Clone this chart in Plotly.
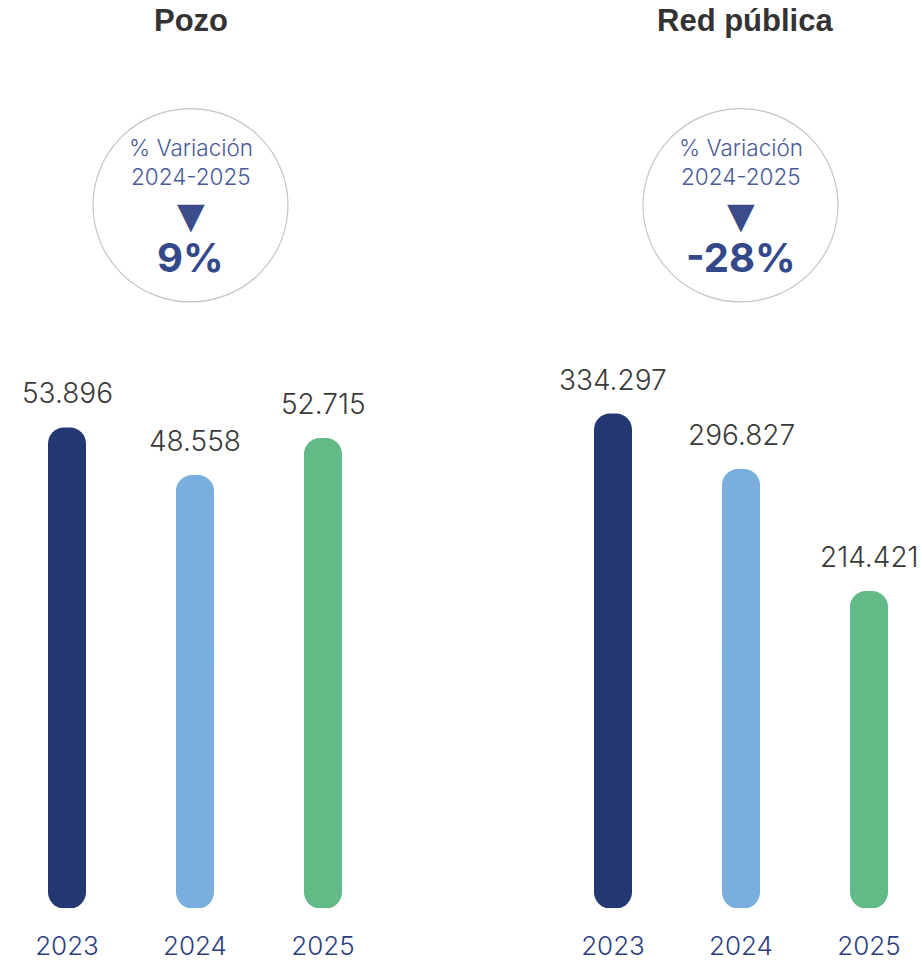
import plotly.graph_objects as go

# Data
years = ["2023", "2024", "2025"]
pozo = [53896, 48558, 52715]
red_publica = [334297, 296827, 214421]
panel_titles = ["Pozo", "Red pública"]
variacion_titulo = ["% Variación", "% Variación"]
variacion_periodo = ["2024-2025", "2024-2025"]
variacion = ["9%", "-28%"]

bar_colors = ["#243874", "#79aedf", "#62ba86"]
W, H = 922, 961
BOTTOM = 45      # room under the bars for the year labels
STEP = 128       # pixels between neighbouring bars
BAR_PX = 38      # bar thickness in pixels


def fmt(v):
    return f"{v:,}".replace(",", ".")


def px(x):
    return x / W


def py(y):
    return 1 - y / H


fig = go.Figure()

panels = [
    (pozo, "x", "y", 190.5, 191),
    (red_publica, "x2", "y2", 740.5, 745),
]

for i, (values, xa, ya, cx, tx) in enumerate(panels):
    # Each bar is drawn as two overlapping halves so both ends get rounded corners
    halves = (
        ([v * 0.4 for v in values], [v * 0.6 for v in values]),
        ([v * 0.6 for v in values], [-v * 0.6 for v in values]),
    )
    for base, size in halves:
        fig.add_trace(go.Bar(
            x=years, y=size, base=base, width=BAR_PX / STEP,
            marker=dict(color=bar_colors, cornerradius=16, line_width=0),
            xaxis=xa, yaxis=ya, hoverinfo="skip", showlegend=False,
        ))
    for k, v in enumerate(values):
        fig.add_annotation(
            x=k, y=v, xref=xa, yref=ya, text=fmt(v), showarrow=False,
            xanchor="center", yanchor="bottom", yshift=15,
            font=dict(family="Inter", size=28, color="#3a3a3a", weight=300),
        )

    # Panel title
    fig.add_annotation(
        x=px(tx), y=py(21), xref="paper", yref="paper", text=f"<b>{panel_titles[i]}</b>",
        showarrow=False, xanchor="center", yanchor="middle",
        font=dict(family="Liberation Sans", size=31, color="#333333"),
    )

    # Variation badge
    r = 97.5
    fig.add_shape(
        type="circle", xref="paper", yref="paper",
        x0=px(cx - r), x1=px(cx + r), y0=py(207 + r), y1=py(207 - r),
        line=dict(color="#c4c4c4", width=1.2), fillcolor="rgba(0,0,0,0)",
    )
    for txt, yc in ((variacion_titulo[i], 149), (variacion_periodo[i], 177.5)):
        fig.add_annotation(
            x=px(cx), y=py(yc), xref="paper", yref="paper", text=txt,
            showarrow=False, xanchor="center", yanchor="middle",
            font=dict(family="Inter", size=22.5, color="#4a5a98", weight=300),
        )
    fig.add_annotation(
        x=px(cx), y=py(217), xref="paper", yref="paper", text="▼",
        showarrow=False, xanchor="center", yanchor="middle",
        font=dict(family="DejaVu Sans", size=36, color="#3a4d8a"),
    )
    fig.add_annotation(
        x=px(cx), y=py(260), xref="paper", yref="paper", text=f"<b>{variacion[i]}</b>",
        showarrow=False, xanchor="center", yanchor="middle",
        font=dict(family="Inter", size=40, color="#34498a", weight=900),
    )

axis_common = dict(showgrid=False, zeroline=False, showline=False)
xtick = dict(
    type="category", tickvals=years, ticktext=years, ticks="outside",
    ticklen=14, tickcolor="rgba(0,0,0,0)",
    tickfont=dict(family="Inter", size=26, color="#2c3e80", weight=300),
)
half = W / 2

fig.update_layout(
    width=W, height=H,
    margin=dict(l=0, r=0, t=0, b=0),
    paper_bgcolor="white", plot_bgcolor="white",
    barmode="overlay",
    xaxis=dict(domain=[0, 0.5], range=[-67 / STEP, (half - 67) / STEP], anchor="y",
               **axis_common, **xtick),
    xaxis2=dict(domain=[0.5, 1], range=[-152 / STEP, (half - 152) / STEP], anchor="y2",
                **axis_common, **xtick),
    yaxis=dict(domain=[BOTTOM / H, 1], range=[0, 101800], anchor="x",
               showticklabels=False, **axis_common),
    yaxis2=dict(domain=[BOTTOM / H, 1], range=[0, 613700], anchor="x2",
                showticklabels=False, **axis_common),
)

fig.write_html("out.html")
